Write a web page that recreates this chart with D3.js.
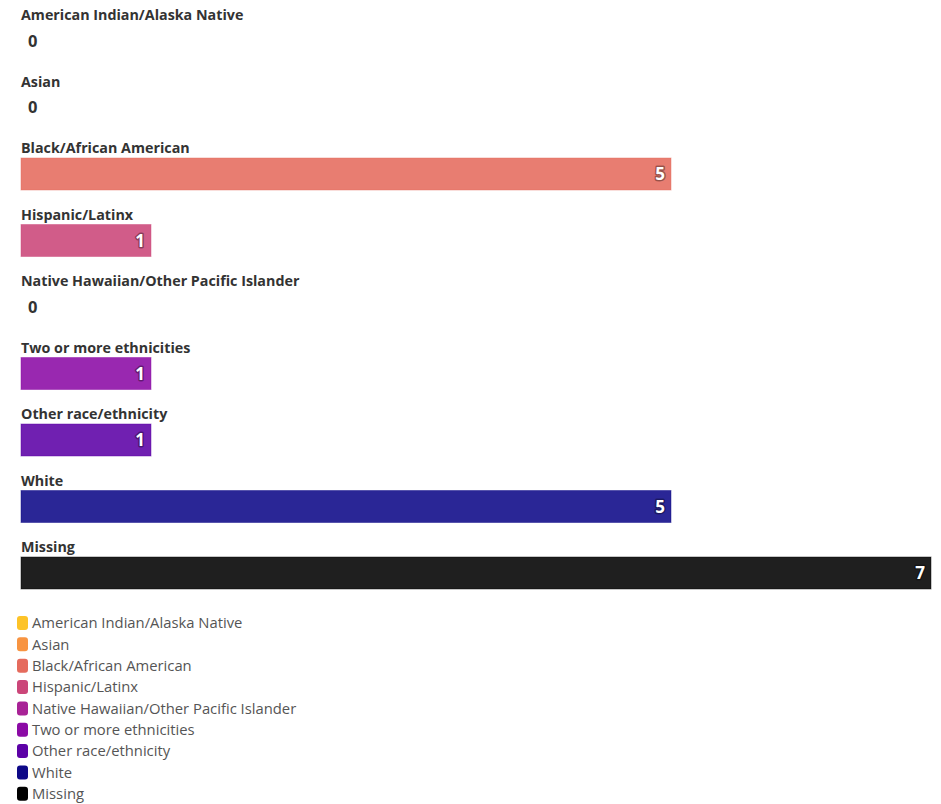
<!DOCTYPE html>
<html>
<head>
<meta charset="utf-8">
<script src="https://cdn.jsdelivr.net/npm/d3@7"></script>
<style>
  html, body { margin: 0; padding: 0; background: #fff; }
  svg { display: block; font-family: "Open Sans", Lato, sans-serif; }
</style>
</head>
<body>
<svg id="chart" width="941" height="804"></svg>
<script>
const categories = [
  "American Indian/Alaska Native",
  "Asian",
  "Black/African American",
  "Hispanic/Latinx",
  "Native Hawaiian/Other Pacific Islander",
  "Two or more ethnicities",
  "Other race/ethnicity",
  "White",
  "Missing"
];
const values = [0, 0, 5, 1, 0, 1, 1, 5, 7];
const colors = ["#fdc328", "#f89441", "#e56b5d", "#cb4679", "#a82296", "#8b0aa5", "#5c01a6", "#0d0887", "#000000"];

const svg = d3.select("#chart");
const left = 21, right = 931;
const rowStep = 66.5, firstBaseline = 20, barH = 32;

const x = d3.scaleLinear().domain([0, d3.max(values)]).range([left, right]);
const y = d3.scaleLinear().domain([0, 1]).range([firstBaseline, firstBaseline + rowStep]);
const color = d3.scaleOrdinal().domain(categories).range(colors);

const data = categories.map((c, i) => ({ c, v: values[i], i }));

const rows = svg.append("g").selectAll("g").data(data).join("g");

rows.append("text")
  .attr("x", left)
  .attr("y", d => y(d.i))
  .attr("font-size", 14.3)
  .attr("font-weight", 700)
  .attr("fill", "#333")
  .text(d => d.c);

rows.filter(d => d.v > 0).append("rect")
  .attr("x", x(0))
  .attr("y", d => y(d.i) + 5)
  .attr("width", d => x(d.v) - x(0))
  .attr("height", barH)
  .attr("fill", d => color(d.c))
  .attr("fill-opacity", 0.88)
  .attr("stroke", d => color(d.c))
  .attr("stroke-opacity", 0.45)
  .attr("stroke-width", 1);

rows.filter(d => d.v > 0).append("text")
  .attr("x", d => x(d.v) - 6)
  .attr("y", d => y(d.i) + 5 + barH / 2)
  .attr("dy", "0.36em")
  .attr("text-anchor", "end")
  .attr("font-size", 17)
  .attr("font-weight", 700)
  .attr("fill", "#fff")
  .style("paint-order", "stroke")
  .attr("stroke", "rgba(0,0,0,0.35)")
  .attr("stroke-width", 3)
  .attr("stroke-linejoin", "round")
  .text(d => d.v);

rows.filter(d => d.v === 0).append("text")
  .attr("x", left + 7)
  .attr("y", d => y(d.i) + 5 + barH / 2)
  .attr("dy", "0.36em")
  .attr("font-size", 16.5)
  .attr("font-weight", 700)
  .attr("fill", "#333")
  .text(d => d.v);

// Legend
const legendTop = 623, legendStep = 21.35;
const lg = svg.append("g").selectAll("g").data(categories).join("g")
  .attr("transform", (d, i) => `translate(0,${legendTop + i * legendStep})`);
lg.append("rect")
  .attr("x", 17).attr("y", -7).attr("width", 11).attr("height", 14)
  .attr("rx", 3)
  .attr("fill", d => color(d));
lg.append("text")
  .attr("x", 32).attr("y", 0).attr("dy", "0.35em")
  .attr("font-size", 14.8)
  .attr("fill", "#555")
  .text(d => d);
</script>
</body>
</html>
